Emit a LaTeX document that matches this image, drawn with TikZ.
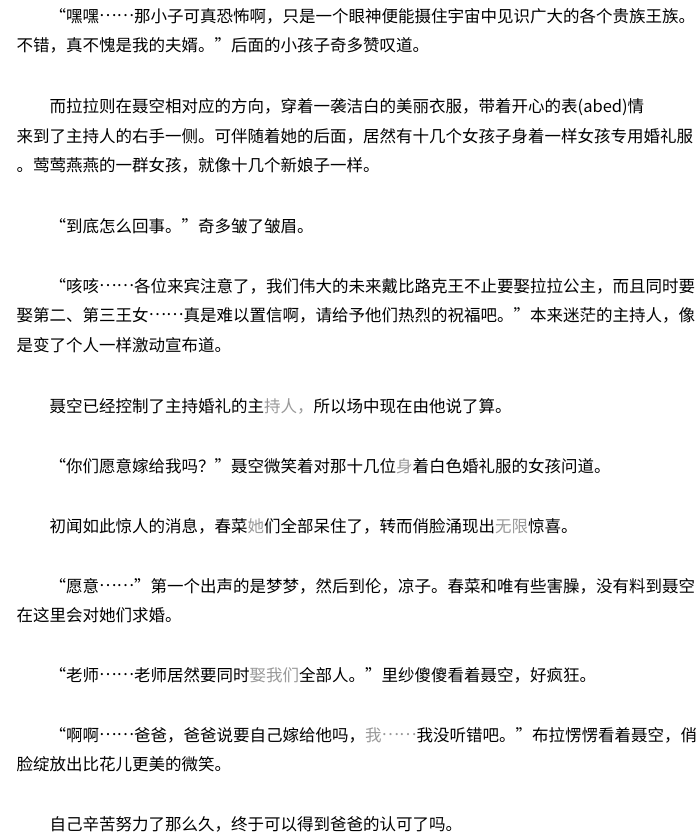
\documentclass[tikz,border=0pt]{standalone}
\usepackage{fontspec}
\setmainfont{Noto Sans CJK SC}
\begin{document}
\begin{tikzpicture}[x=1pt,y=1pt,
  ln/.style={anchor=base west, inner sep=0pt, text=black,
    font=\fontsize{16.5pt}{16.5pt}\selectfont}]
\newcommand{\fnt}[1]{\textcolor{black!40}{#1}}
\newcommand{\dd}{\raisebox{0.34em}{……}}
\useasboundingbox[fill=white] (0,0) rectangle (698,-838);
\def\fx{16.5}
\def\ix{49.5}
\node[ln] (l1) at (\ix,-22.5) {“嘿嘿\dd 那小子可真恐怖啊，只是一个眼神便能摄住宇宙中见识广大的各个贵族王族。};
\node[ln] (l2) at (\fx,-51.5) {不错，真不愧是我的夫婿。”后面的小孩子奇多赞叹道。};
\node[ln] (l3) at (\ix,-112.5) {而拉拉则在聂空相对应的方向，穿着一袭洁白的美丽衣服，带着开心的表(abed)情};
\node[ln] (l4) at (\fx,-142) {来到了主持人的右手一侧。可伴随着她的后面，居然有十几个女孩子身着一样女孩专用婚礼服};
\node[ln] (l5) at (\fx,-171.5) {。莺莺燕燕的一群女孩，就像十几个新娘子一样。};
\node[ln] (l6) at (\ix,-232.5) {“到底怎么回事。”奇多皱了皱眉。};
\node[ln] (l7) at (\ix,-292) {“咳咳\dd 各位来宾注意了，我们伟大的未来戴比路克王不止要娶拉拉公主，而且同时要};
\node[ln] (l8) at (\fx,-321.5) {娶第二、第三王女\dd 真是难以置信啊，请给予他们热烈的祝福吧。”本来迷茫的主持人，像};
\node[ln] (l9) at (\fx,-351) {是变了个人一样激动宣布道。};
\node[ln] (l10) at (\ix,-412) {聂空已经控制了主持婚礼的主\fnt{持人，}所以场中现在由他说了算。};
\node[ln] (l11) at (\ix,-472) {“你们愿意嫁给我吗？”聂空微笑着对那十几位\fnt{身}着白色婚礼服的女孩问道。};
\node[ln] (l12) at (\ix,-532) {初闻如此惊人的消息，春菜\fnt{她}们全部呆住了，转而俏脸涌现出\fnt{无限}惊喜。};
\node[ln] (l13) at (\ix,-592) {“愿意\dd ”第一个出声的是梦梦，然后到伦，凉子。春菜和唯有些害臊，没有料到聂空};
\node[ln] (l14) at (\fx,-621.5) {在这里会对她们求婚。};
\node[ln] (l15) at (\ix,-681.5) {“老师\dd 老师居然要同时\fnt{娶我们}全部人。”里纱傻傻看着聂空，好疯狂。};
\node[ln] (l16) at (\ix,-741.5) {“啊啊\dd 爸爸，爸爸说要自己嫁给他吗，\fnt{我\dd}我没听错吧。”布拉愣愣看着聂空，俏};
\node[ln] (l17) at (\fx,-770.5) {脸绽放出比花儿更美的微笑。};
\node[ln] (l18) at (\ix,-830) {自己辛苦努力了那么久，终于可以得到爸爸的认可了吗。};
\end{tikzpicture}
\end{document}
